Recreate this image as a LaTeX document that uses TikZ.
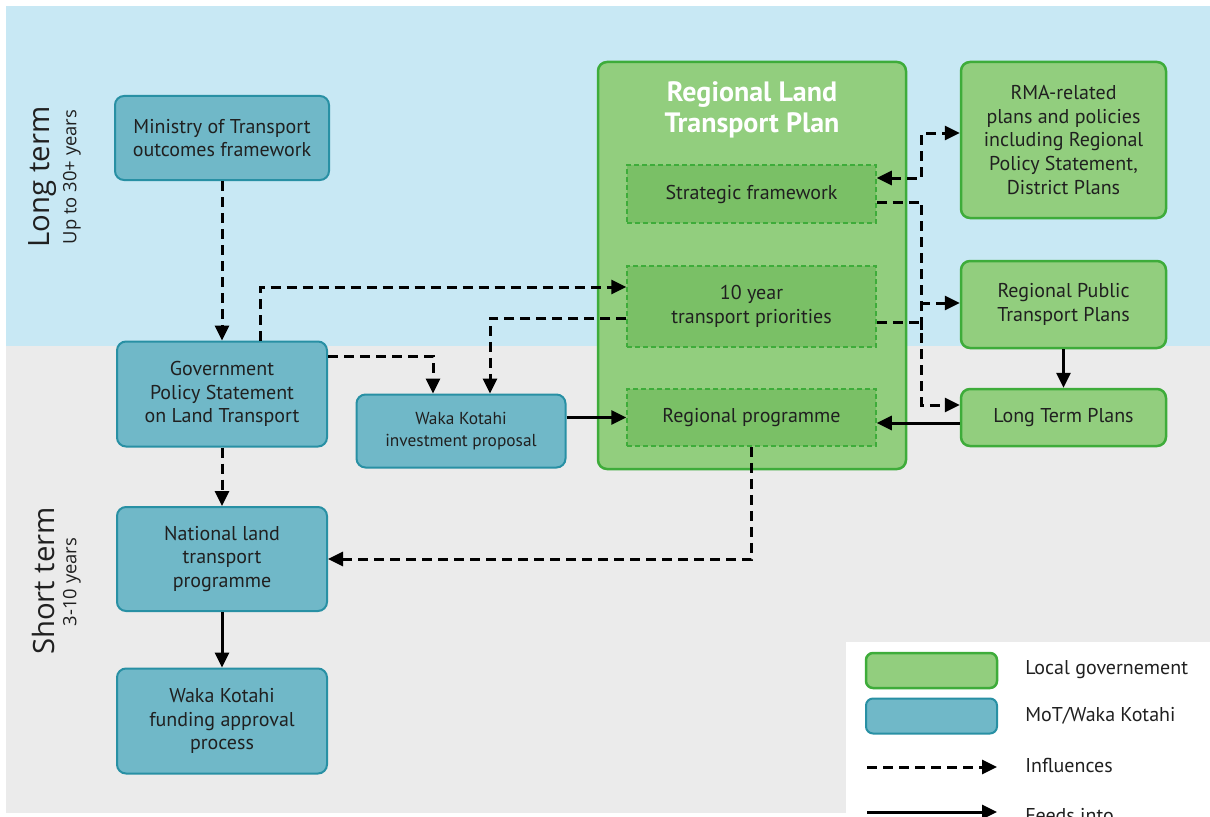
\documentclass[tikz,border=0pt]{standalone}
\usepackage{fontspec}
\setmainfont{PT Sans}
\newfontfamily\labfont{Open Sans}
\usetikzlibrary{arrows.meta,calc}
\definecolor{bgblue}{RGB}{200,232,244}
\definecolor{bggray}{RGB}{235,235,235}
\definecolor{tealF}{RGB}{112,184,200}
\definecolor{tealB}{RGB}{40,144,164}
\definecolor{grnF}{RGB}{146,206,126}
\definecolor{grnI}{RGB}{122,192,102}
\definecolor{grnB}{RGB}{62,172,58}
\definecolor{txt}{RGB}{32,32,32}
\tikzset{
  boxfont/.style={font=\fontsize{15}{17.8}\selectfont},
  tealbox/.style={draw=tealB, fill=tealF, line width=1.5pt, rounded corners=6.75pt,
    align=center, inner sep=0pt, text=txt, boxfont},
  grnbox/.style={draw=grnB, fill=grnF, line width=1.875pt, rounded corners=6.75pt,
    align=center, inner sep=0pt, text=txt, boxfont},
  innerbox/.style={draw=grnB, fill=grnI, line width=1.125pt, dash pattern=on 3.75pt off 2.25pt,
    align=center, inner sep=0pt, text=txt, boxfont},
  tip/.style={-{Triangle[length=11.25pt,width=10.5pt]}},
  infl/.style={draw=black, line width=2.25pt, dash pattern=on 7.5pt off 4.5pt, tip},
  feed/.style={draw=black, line width=2.25pt, tip},
  legtext/.style={anchor=west, text=txt, boxfont, inner sep=0pt},
  biglab/.style={rotate=90, text=txt, font=\labfont\fontsize{22}{24}\selectfont, inner sep=0pt},
  smalllab/.style={rotate=90, text=txt, font=\labfont\fontsize{13.8}{15}\selectfont, inner sep=0pt}
}
\begin{document}
\begin{tikzpicture}[x=0.75pt,y=-0.75pt]
\useasboundingbox (0,0) rectangle (1210,817);
\clip (0,0) rectangle (1210,817);
% backgrounds
\fill[white] (0,0) rectangle (1210,817);
\fill[bgblue] (6,6) rectangle (1210,346);
\fill[bggray] (6,346) rectangle (1210,813);
\fill[white] (846,642) rectangle (1210,817);

% side labels
\node[biglab] (lt) at (43,177) {Long term};
\node[smalllab] (lts) at (72,177) {Up to 30+ years};
\node[biglab] (st) at (43,581) {Short term};
\node[smalllab] (sts) at (72,582) {3-10 years};

% teal boxes
\node[tealbox, minimum width=160.5pt, minimum height=63pt] (mot) at (222,138) {Ministry of Transport\\outcomes framework};
\node[tealbox, minimum width=157.5pt, minimum height=78.75pt] (gps) at (222,394) {Government\\Policy Statement\\on Land Transport};
\node[tealbox, minimum width=156.75pt, minimum height=54.75pt, font=\fontsize{13}{16.5}\selectfont] (wkip) at (461,431) {Waka Kotahi\\investment proposal};
\node[tealbox, minimum width=157.5pt, minimum height=78pt] (nltp) at (222,559) {National land\\transport\\programme};
\node[tealbox, minimum width=157.5pt, minimum height=78.75pt] (wkf) at (222,721) {Waka Kotahi\\funding approval\\process};

% RLTP
\node[grnbox, minimum width=231pt, minimum height=305.25pt] (rltp) at (752,265.5) {};
\node[text=white, font=\bfseries\fontsize{21}{23.2}\selectfont, align=center, inner sep=0pt] (rltpt) at (752,110) {Regional Land\\Transport Plan};
\node[innerbox, minimum width=186.75pt, minimum height=43.5pt] (sf) at (751.5,194) {Strategic framework};
\node[innerbox, minimum width=186.75pt, minimum height=60.75pt] (tyr) at (751.5,306.5) {10 year\\transport priorities};
\node[innerbox, minimum width=186.75pt, minimum height=42.75pt] (rp) at (751.5,417.5) {Regional programme};

% right green boxes
\node[grnbox, minimum width=153.75pt, minimum height=117pt] (rma) at (1063.5,140) {RMA-related\\plans and policies\\including Regional\\Policy Statement,\\District Plans};
\node[grnbox, minimum width=153.75pt, minimum height=65.25pt] (rptp) at (1063.5,304.5) {Regional Public\\Transport Plans};
\node[grnbox, minimum width=153.75pt, minimum height=42.75pt] (ltp) at (1063.5,417.5) {Long Term Plans};

% connectors
\draw[infl] (mot.south) -- (gps.north);
\draw[infl] ($(gps.north)+(38,0)$) |- ($(tyr.west)+(0,-19.5)$);
\draw[infl] ($(gps.east)+(0,-38)$) -| ($(wkip.north)+(-28,0)$);
\draw[infl] ($(tyr.west)+(0,11.5)$) -| ($(wkip.north)+(29,0)$);
\draw[feed] (rp.west -| wkip.east) -- (rp.west);
\draw[infl] (gps.south) -- (nltp.north);
\draw[feed] (nltp.south) -- (wkf.north);
\draw[infl] (rp.south) |- (nltp.east);
\draw[infl, {Triangle[length=11.25pt,width=10.5pt]}-{Triangle[length=11.25pt,width=10.5pt]}]
  ($(sf.east)+(0,-16)$) -- ++(45,0) |- ($(rma.west)+(0,-7)$);
\draw[infl] ($(sf.east)+(0,8)$) -- ++(45,0) |- ($(rptp.west)+(0,-1.5)$);
\draw[infl] ($(sf.east)+(0,8)$) -- ++(45,0) |- ($(ltp.west)+(0,-12.5)$);
\draw[draw=black, line width=2.25pt, dash pattern=on 7.5pt off 4.5pt] ($(tyr.east)+(0,15.5)$) -- ++(45,0) -- ++(0,8);
\draw[feed] (rptp.south) -- (ltp.north);
\draw[feed] ($(ltp.west)+(0,5.5)$) -- ($(rp.east)+(0,5.5)$);

% legend
\node[grnbox, minimum width=98.25pt, minimum height=26.25pt, rounded corners=5.25pt] (lg1) at (931.5,670.5) {};
\node[tealbox, minimum width=98.25pt, minimum height=26.25pt, rounded corners=5.25pt] (lg2) at (931.5,716) {};
\coordinate (la1) at (867,767);
\coordinate (lb1) at (997,767);
\coordinate (la2) at (867,812);
\coordinate (lb2) at (997,812);
\draw[infl] (la1) -- (lb1);
\draw[feed] (la2) -- (lb2);
\node[legtext] (lt1) at (1025,670) {Local governement};
\node[legtext] (lt2) at (1025,716) {MoT/Waka Kotahi};
\node[legtext] (lt3) at (1025,765) {Influences};
\node[legtext, anchor=base west] (lt4) at (1025,822) {Feeds into};
\end{tikzpicture}
\end{document}
